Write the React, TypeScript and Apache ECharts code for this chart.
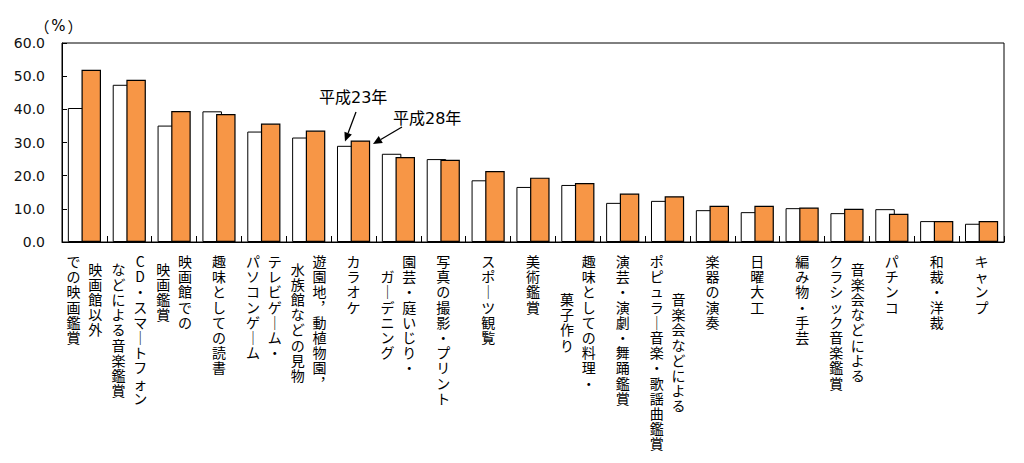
import React, { useEffect, useRef } from "react";
import * as echarts from "echarts";

// ---- data ----
const categories: string[] = [
  "映画館以外\nでの映画鑑賞",
  "CD・スマートフォン\nなどによる音楽鑑賞",
  "映画館での\n映画鑑賞",
  "趣味としての読書",
  "テレビゲーム・\nパソコンゲーム",
  "遊園地，動植物園，\n水族館などの見物",
  "カラオケ",
  "園芸・庭いじり・\nガーデニング",
  "写真の撮影・プリント",
  "スポーツ観覧",
  "美術鑑賞",
  "趣味としての料理・\n菓子作り",
  "演芸・演劇・舞踊鑑賞",
  "音楽会などによる\nポピュラー音楽・歌謡曲鑑賞",
  "楽器の演奏",
  "日曜大工",
  "編み物・手芸",
  "音楽会などによる\nクラシック音楽鑑賞",
  "パチンコ",
  "和裁・洋裁",
  "キャンプ",
];

const seriesNames = ["平成23年", "平成28年"];

const h23: number[] = [
  40.4, 47.4, 35.1, 39.4, 33.3, 31.5, 29.0, 26.6, 25.0, 18.6, 16.6, 17.2,
  11.8, 12.4, 9.6, 9.0, 10.2, 8.7, 9.9, 6.3, 5.5,
];
const h28: number[] = [
  51.9, 48.9, 39.5, 38.6, 35.7, 33.6, 30.6, 25.6, 24.8, 21.4, 19.4, 17.8,
  14.6, 13.8, 10.9, 10.9, 10.4, 10.0, 8.5, 6.3, 6.3,
];

const yTicks = { min: 0, max: 60, interval: 10 };
const unitParts = ["（", "%", "）"];

// ---- style constants ----
const LINE_H = 15.2;
const COL_GAP = 21.7;
const LABEL_TOP = 11.4;
const CJK = "'Noto Sans CJK JP'";
const LATIN = "'DejaVu Sans', 'Noto Sans CJK JP'";

const verticalForm = (ch: string) => {
  if (ch === "ー") return "｜";
  if (ch === "，") return "︐";
  return ch;
};

function arrow(x1: number, y1: number, x2: number, y2: number) {
  const dx = x2 - x1;
  const dy = y2 - y1;
  const len = Math.sqrt(dx * dx + dy * dy);
  const ux = dx / len;
  const uy = dy / len;
  const hl = 9;
  const hw = 4;
  const bx = x2 - ux * hl;
  const by = y2 - uy * hl;
  return [
    {
      type: "line",
      shape: { x1, y1, x2: bx, y2: by },
      style: { stroke: "#000", lineWidth: 1.3 },
    },
    {
      type: "polygon",
      shape: {
        points: [
          [x2, y2],
          [bx - uy * hw, by + ux * hw],
          [bx + uy * hw, by - ux * hw],
        ],
      },
      style: { fill: "#000" },
    },
  ];
}

export default function App() {
  const ref = useRef<HTMLDivElement>(null);

  useEffect(() => {
    if (!ref.current) return;
    const chart = echarts.init(ref.current, undefined, { renderer: "svg" });

    const labelSeries = {
      type: "custom",
      silent: true,
      clip: false,
      z: 10,
      data: categories.map((_, i) => [i, 0]),
      encode: { x: 0, y: 1 },
      renderItem: (params: any, api: any) => {
        const i = api.value(0);
        const pt = api.coord([i, 0]);
        const cx = pt[0];
        const y0 = pt[1];
        const cols = categories[i].split("\n");
        const maxLen = Math.max(...cols.map((c) => Array.from(c).length));
        const children = cols.map((col, j) => {
          const chars = Array.from(col).map(verticalForm);
          const off = ((maxLen - chars.length) / 2) * LINE_H;
          const x = cx + ((cols.length - 1) / 2 - j) * COL_GAP;
          return {
            type: "text",
            x,
            y: y0 + LABEL_TOP + off,
            style: {
              text: chars.join("\n"),
              fill: "#000",
              fontSize: 14,
              fontFamily: CJK,
              lineHeight: LINE_H,
              align: "center",
              verticalAlign: "top",
            },
          };
        });
        return { type: "group", children };
      },
    };

    const annotations = [
      { text: seriesNames[0], x: 319, y: 97, a: [356, 112, 345, 141.5] },
      { text: seriesNames[1], x: 393, y: 118.5, a: [402, 127, 373, 144] },
    ];

    const graphics: any[] = [
      {
        type: "text",
        x: 34.5,
        y: 26,
        style: {
          text: `{p|${unitParts[0]}}{m|${unitParts[1]}}{p|${unitParts[2]}}`,
          fill: "#000",
          fontSize: 15,
          fontFamily: LATIN,
          align: "left",
          verticalAlign: "middle",
          rich: {
            p: { fontSize: 15, fontFamily: CJK, fill: "#000" },
            m: {
              fontSize: 15,
              fontFamily: LATIN,
              fill: "#000",
              width: 18,
              align: "center",
            },
          },
        },
      },
    ];
    annotations.forEach((an) => {
      graphics.push({
        type: "text",
        x: an.x,
        y: an.y,
        style: {
          text: an.text,
          fill: "#000",
          fontSize: 16,
          fontFamily: LATIN,
          align: "left",
          verticalAlign: "middle",
        },
      });
      arrow(an.a[0], an.a[1], an.a[2], an.a[3]).forEach((g) => graphics.push(g));
    });

    chart.setOption({
      animation: false,
      grid: {
        left: 62,
        right: 20,
        top: 43,
        bottom: 221,
        show: true,
        borderColor: "#000",
        borderWidth: 1,
        backgroundColor: "transparent",
      },
      xAxis: {
        type: "category",
        data: categories,
        axisLine: { show: true, lineStyle: { color: "#000", width: 1 } },
        axisTick: {
          show: true,
          inside: true,
          length: 6,
          interval: 0,
          lineStyle: { color: "#000" },
        },
        axisLabel: { show: false },
        splitLine: { show: false },
      },
      yAxis: {
        type: "value",
        min: yTicks.min,
        max: yTicks.max,
        interval: yTicks.interval,
        axisLine: { show: true, lineStyle: { color: "#000", width: 1 } },
        axisTick: {
          show: true,
          inside: true,
          length: 5,
          lineStyle: { color: "#000" },
        },
        axisLabel: {
          margin: 17,
          color: "#111",
          fontSize: 14,
          fontFamily: LATIN,
          formatter: (v: number) => v.toFixed(1),
        },
        splitLine: { show: false },
      },
      series: [
        {
          name: seriesNames[0],
          type: "bar",
          data: h23,
          barWidth: 19.5,
          barGap: "-30%",
          itemStyle: { color: "#FFFFFF", borderColor: "#000", borderWidth: 1 },
        },
        {
          name: seriesNames[1],
          type: "bar",
          data: h28,
          barWidth: 19.5,
          barGap: "-30%",
          itemStyle: { color: "#F79646", borderColor: "#000", borderWidth: 1.2 },
        },
        labelSeries,
      ],
      graphic: graphics,
    });

    return () => chart.dispose();
  }, []);

  return (
    <div
      ref={ref}
      style={{
        position: "fixed",
        left: 0,
        top: 0,
        width: 1024,
        height: 463,
        background: "#fff",
      }}
    />
  );
}
